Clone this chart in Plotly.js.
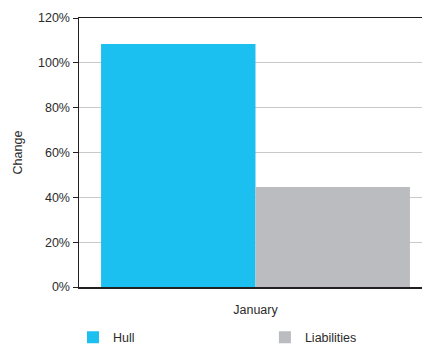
<!DOCTYPE html>
<html>
<head>
<meta charset="utf-8">
<script src="https://cdn.plot.ly/plotly-3.0.1.min.js"></script>
<style>html,body{margin:0;padding:0;background:#fff;}#chart{width:423px;height:347px;}</style>
</head>
<body>
<div id="chart"></div>
<script>
const categories = ['January'];
const seriesNames = ['Hull', 'Liabilities'];
const hullValues = [1.084];
const liabilitiesValues = [0.446];
const yTickValues = [0, 0.2, 0.4, 0.6, 0.8, 1.0, 1.2];
const yTickLabels = ['0%', '20%', '40%', '60%', '80%', '100%', '120%'];

const font = {family: 'Liberation Sans, Arial, sans-serif', size: 12.5, color: '#2b2b2b'};

const traces = [
  {type: 'bar', x: categories, y: hullValues, name: seriesNames[0], marker: {color: '#1BC0F0'}, legend: 'legend'},
  {type: 'bar', x: categories, y: liabilitiesValues, name: seriesNames[1], marker: {color: '#BBBCC0'}, legend: 'legend2'}
];

const legendBase = {orientation: 'h', xanchor: 'left', yref: 'container', yanchor: 'middle', y: 0.027,
                    font: font, bgcolor: 'rgba(0,0,0,0)'};

const layout = {
  width: 423, height: 347,
  margin: {l: 79, r: 1, t: 18, b: 60},
  paper_bgcolor: '#ffffff', plot_bgcolor: '#ffffff',
  font: font,
  barmode: 'group', bargap: 0.125, bargroupgap: 0,
  showlegend: true,
  legend: Object.assign({}, legendBase, {x: -0.0175}),
  legend2: Object.assign({}, legendBase, {x: 0.542}),
  xaxis: {range: [-0.5, 0.4717], showline: true, mirror: true, linecolor: '#231f20', linewidth: 1.5,
          ticks: '', showgrid: false, tickfont: font, fixedrange: true, ticklabelstandoff: 10},
  yaxis: {range: [0, 1.2], tickvals: yTickValues, ticktext: yTickLabels, showline: true,
          linecolor: '#231f20', linewidth: 1.5, ticks: 'outside', ticklen: 5, tickcolor: '#231f20',
          showgrid: true, gridcolor: '#c8c8c8', gridwidth: 1, zeroline: false,
          title: {text: 'Change', font: font, standoff: 12}, tickfont: font}
};

Plotly.newPlot('chart', traces, layout, {displayModeBar: false, staticPlot: true});
</script>
</body>
</html>
